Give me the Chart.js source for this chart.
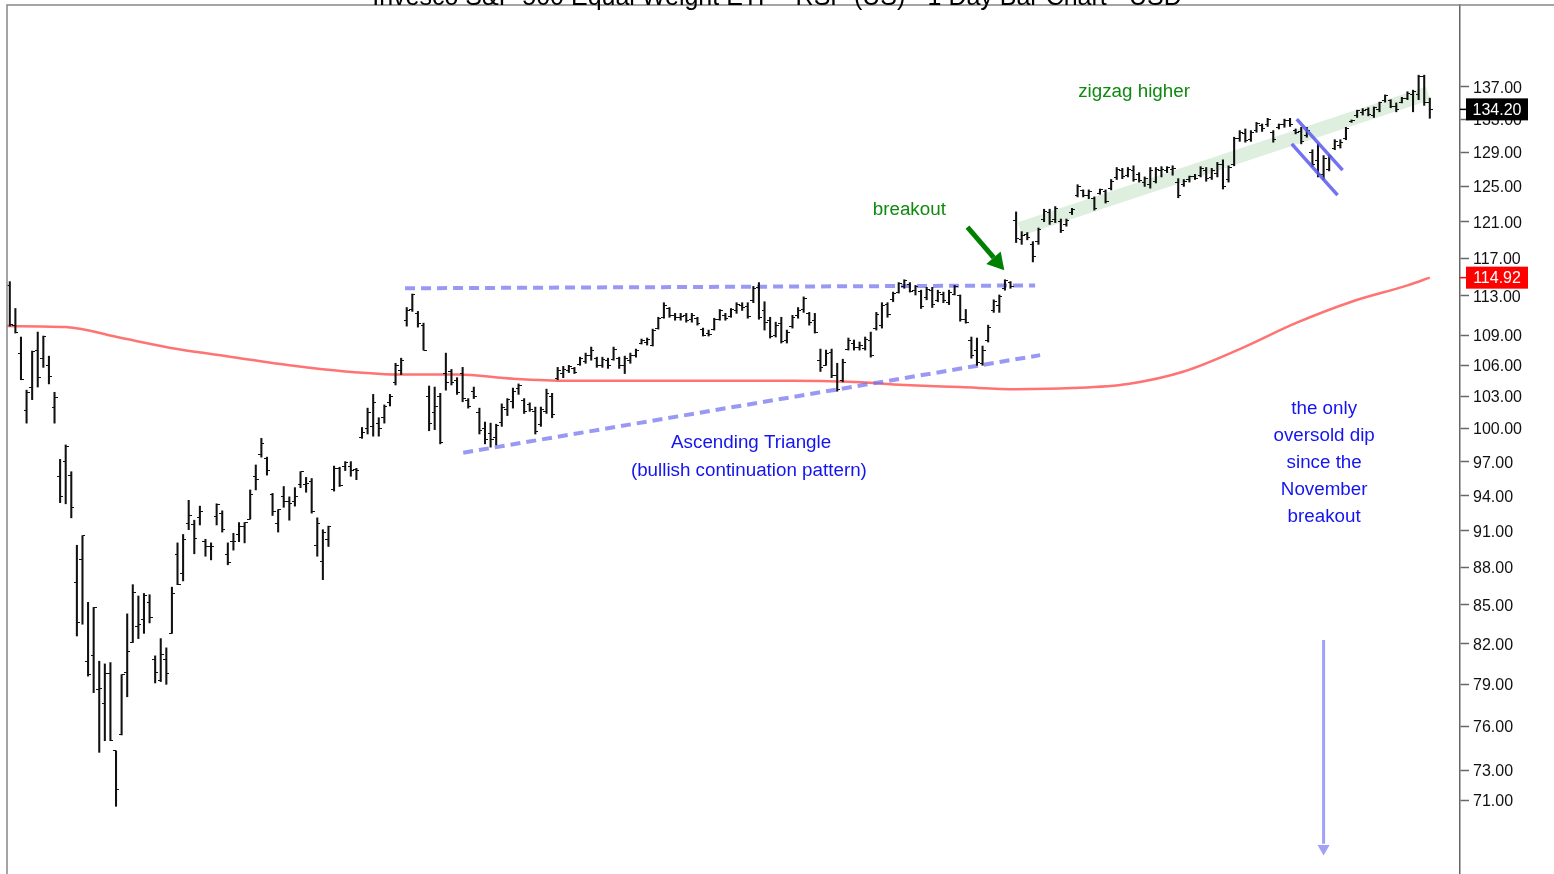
<!DOCTYPE html>
<html>
<head>
<meta charset="utf-8">
<script src="https://cdn.jsdelivr.net/npm/chart.js@4.4.1/dist/chart.umd.min.js"></script>
<style>
  html, body { margin: 0; padding: 0; background: #fff; overflow: hidden; }
  #wrap { position: relative; width: 1554px; height: 874px; }
</style>
</head>
<body>
<div id="wrap"><canvas id="chart" width="1554" height="874"></canvas></div>
<script>
const title = "Invesco S&P 500 Equal Weight ETF - RSP (US) - 1 Day Bar Chart - USD";

// daily bars (oldest first)
const opens = [
  114.1,110.0,107.2,101.7,103.9,107.5,106.7,106.0,102.0,95.7,
  97.0,95.8,86.8,88.6,80.7,81.1,78.6,77.6,79.8,74.3,
  75.4,79.9,82.1,83.3,83.9,85.2,80.8,79.3,80.8,82.8,
  89.0,87.5,91.6,91.5,92.1,90.1,89.7,92.2,92.5,89.0,
  90.1,90.7,91.4,92.0,95.7,97.6,97.3,94.1,91.6,93.9,
  93.5,93.5,95.0,95.0,95.2,89.8,88.5,90.3,94.5,96.4,
  96.6,96.6,96.3,99.2,100.0,100.2,100.5,101.0,102.4,104.3,
  105.5,110.5,111.6,111.2,110.0,103.0,101.5,103.0,105.2,105.4,
  104.5,105.2,102.6,103.5,101.5,100.0,99.5,99.2,100.6,101.8,
  102.5,103.8,102.6,102.2,101.6,100.4,101.6,103.0,104.7,105.2,
  105.5,105.7,106.1,106.4,107.0,106.7,106.0,106.5,106.6,106.7,
  106.0,106.5,107.0,108.2,108.3,108.0,109.7,110.8,111.7,111.0,
  110.8,111.0,110.6,110.7,109.6,109.2,109.6,110.6,111.0,110.9,
  111.5,112.0,111.9,112.5,113.9,111.5,110.5,109.0,110.2,108.5,
  109.9,111.0,111.6,111.2,110.5,106.5,106.0,107.3,105.0,104.5,
  107.6,108.2,107.8,107.7,108.5,109.7,110.0,112.1,112.6,113.4,
  114.0,114.2,113.6,113.5,112.8,113.6,112.5,113.2,112.3,113.2,
  113.0,110.6,108.5,107.5,106.2,108.5,111.5,112.0,113.8,114.4,
  121.1,119.0,119.6,118.5,118.8,121.2,122.0,121.2,121.0,120.7,
  122.0,124.0,124.5,124.0,123.6,124.2,124.4,124.8,126.0,126.8,
  126.3,126.8,126.4,125.5,125.2,125.6,126.8,126.8,127.0,125.5,
  125.2,125.8,126.2,126.3,126.9,126.0,126.5,127.5,125.8,127.6,
  130.6,131.3,130.5,131.6,132.2,132.3,131.4,132.0,132.3,132.8,
  131.6,131.5,131.0,129.0,128.0,126.4,127.0,129.5,129.8,130.7,
  132.7,133.4,133.8,134.2,133.5,134.2,135.3,135.3,134.5,135.1,
  135.6,136.0,136.0,138.3,135.0
];
const highs = [
  114.5,111.7,108.8,103.6,107.4,109.3,108.9,106.9,103.4,97.2,
  98.5,96.1,89.8,90.6,85.2,84.8,80.7,80.5,80.6,74.3,
  79.7,84.3,86.6,85.7,85.9,85.8,81.1,82.4,81.7,86.4,
  90.0,90.7,93.6,91.9,93.1,90.3,90.0,93.3,92.7,90.0,
  90.8,91.7,91.7,94.5,96.7,99.1,97.4,94.2,92.8,94.8,
  93.9,94.7,96.1,95.6,95.5,92.1,91.1,91.4,96.6,96.5,
  97.0,97.0,96.4,100.1,101.9,103.2,101.0,102.2,103.2,106.2,
  106.7,111.8,113.2,111.4,110.2,104.0,103.9,103.3,107.2,105.6,
  104.8,105.8,102.8,103.9,101.9,100.6,100.5,100.4,102.3,102.8,
  103.8,104.2,102.8,102.4,102.0,102.0,103.7,103.3,105.8,105.9,
  106.0,105.8,106.8,107.2,107.8,106.8,106.8,106.7,107.8,106.8,
  106.9,107.2,107.6,108.6,108.7,109.6,110.8,112.3,111.8,111.2,
  111.2,111.2,111.2,110.8,109.7,109.5,110.7,111.6,111.2,111.7,
  112.3,112.3,112.3,114.0,114.4,112.4,110.8,110.3,110.8,109.5,
  111.0,111.8,112.9,111.3,111.2,107.6,107.5,107.6,106.2,106.6,
  108.7,108.5,108.3,108.8,109.3,111.3,112.3,112.3,113.4,114.4,
  114.7,114.4,114.1,113.6,113.9,113.9,113.6,113.4,113.6,114.1,
  113.1,111.6,108.8,108.7,107.9,110.0,112.6,113.1,114.7,114.5,
  122.1,119.9,119.8,118.8,120.3,122.4,122.4,122.7,121.3,121.3,
  122.5,125.2,124.6,124.6,123.8,124.7,124.6,125.8,127.2,127.1,
  127.2,127.4,126.6,126.1,127.2,127.2,127.3,127.3,127.4,125.9,
  125.8,126.2,126.4,127.3,127.2,127.1,127.8,128.1,127.4,130.8,
  131.6,131.8,131.6,132.6,132.4,133.1,131.6,132.4,133.0,133.1,
  131.8,132.0,132.0,129.3,130.0,128.6,128.7,130.5,130.5,132.0,
  132.9,134.1,134.3,134.4,134.5,135.1,136.0,135.4,135.0,135.7,
  136.4,136.6,138.5,138.5,135.6
];
const lows = [
  109.9,109.2,104.6,100.5,102.7,103.9,105.8,104.2,100.5,93.4,
  93.3,92.1,82.6,83.5,79.6,78.4,74.2,75.0,75.0,70.6,
  75.4,78.1,82.1,82.4,82.8,83.6,79.1,79.2,79.0,82.8,
  86.6,86.9,91.1,89.1,91.5,88.9,88.6,91.5,90.9,88.2,
  89.4,90.1,90.0,92.0,94.5,97.4,95.8,92.3,90.9,93.0,
  91.9,93.1,94.7,94.3,92.5,88.9,87.0,89.7,94.4,94.8,
  96.2,95.7,95.4,99.1,99.5,99.3,99.3,100.5,102.1,104.1,
  105.1,109.9,111.4,109.8,107.5,99.8,99.9,98.6,103.6,104.1,
  103.2,102.5,101.9,102.8,99.5,98.6,98.3,98.5,100.2,101.2,
  101.9,103.2,101.4,101.6,99.5,100.2,101.4,101.0,104.6,104.8,
  105.3,105.2,106.0,106.2,106.5,105.8,105.8,105.7,106.5,105.7,
  105.2,106.2,106.8,108.1,108.0,107.9,109.6,110.7,110.8,110.5,
  110.5,110.3,110.3,110.0,108.9,108.9,109.5,110.5,110.5,110.8,
  111.2,111.5,110.7,112.3,110.6,109.5,108.7,108.8,108.2,108.2,
  109.7,110.7,111.3,110.0,109.2,105.4,106.0,104.8,103.5,104.4,
  107.5,107.5,107.5,107.5,106.8,109.5,109.7,110.8,112.4,113.3,
  113.8,113.4,113.1,111.7,112.6,111.8,112.4,112.3,112.1,113.1,
  110.4,110.2,106.7,106.0,106.0,108.3,111.3,111.3,113.6,113.8,
  118.7,118.5,119.0,116.6,118.5,121.0,120.7,120.9,119.8,120.5,
  121.8,123.8,123.8,123.6,122.3,124.1,123.1,124.6,125.8,125.9,
  126.1,125.6,125.5,125.0,124.8,125.4,126.1,126.6,126.3,123.7,
  125.0,125.5,125.8,126.1,125.6,125.8,126.1,124.7,125.5,127.4,
  130.3,130.2,130.3,131.4,131.5,132.1,130.2,131.8,132.0,132.1,
  131.2,130.0,130.8,127.3,126.1,125.8,126.8,129.3,129.5,130.5,
  132.6,133.2,133.5,133.4,133.2,133.9,135.1,134.4,133.9,135.0,
  135.4,133.9,135.4,134.7,133.1
];
const closes = [
  110.1,109.3,104.6,103.4,107.4,104.8,108.9,104.9,102.9,93.9,
  98.4,93.0,83.6,90.6,79.7,84.8,78.7,79.8,75.0,71.7,
  79.7,81.4,86.0,83.5,85.7,84.0,79.9,81.2,79.8,85.9,
  86.6,90.3,92.3,90.4,92.6,89.7,89.7,93.2,91.1,88.4,
  90.1,91.4,91.7,94.1,95.4,98.6,96.2,92.6,92.8,93.5,
  93.3,93.9,96.1,95.1,92.6,91.6,90.9,91.4,96.4,94.9,
  96.9,96.2,96.2,99.6,101.5,102.4,100.0,102.1,103.0,106.0,
  106.5,111.5,113.1,110.2,107.5,100.5,102.1,98.7,104.3,104.3,
  103.4,102.8,102.1,103.0,99.8,99.0,99.0,100.3,102.0,102.7,
  103.5,104.0,101.6,101.8,99.7,101.8,103.3,101.3,105.5,105.6,
  105.9,105.3,106.7,107.0,107.5,106.0,106.6,106.0,107.6,106.0,
  106.7,107.0,107.5,108.5,108.6,109.5,110.7,112.0,111.0,110.8,
  110.9,110.5,111.0,110.2,109.0,109.1,110.6,111.5,110.7,111.6,
  112.1,111.8,110.9,113.8,110.8,110.3,108.9,110.0,108.4,109.3,
  110.8,111.5,112.7,110.3,109.3,105.8,107.2,105.0,103.7,106.3,
  108.5,107.8,108.0,108.6,107.0,111.1,112.0,111.1,113.3,114.3,
  114.6,113.5,114.0,111.9,113.7,112.1,113.4,112.5,113.4,114.0,
  110.6,110.3,107.0,106.3,107.5,109.8,112.4,112.9,114.6,114.0,
  119.1,119.5,119.2,117.2,120.1,122.2,121.0,122.5,120.0,121.1,
  122.4,125.0,124.0,124.4,122.5,124.6,123.3,125.6,127.0,126.2,
  127.0,125.8,125.7,125.9,126.9,127.0,127.0,127.2,127.1,124.0,
  125.6,126.1,125.9,127.1,125.9,126.9,127.6,125.0,127.2,130.6,
  131.4,130.4,131.4,132.5,131.8,133.0,130.5,132.3,132.8,132.4,
  131.4,130.3,131.6,127.6,126.4,128.3,128.5,130.3,130.2,131.9,
  132.8,134.0,134.1,133.6,134.4,135.0,135.9,134.6,134.2,135.6,
  136.2,136.4,138.3,135.0,134.2
];

// 200 day moving average, read every 10 bars
const maBars   = [-0.5, 10, 20, 30, 40, 50, 60, 70, 80, 90, 100, 110, 120, 130, 140, 150, 160, 170, 180, 190, 200, 210, 220, 230, 240, 250, 254];
const maValues = [109.9, 109.8, 108.7, 107.6, 106.8, 106.0, 105.4, 105.1, 105.1, 104.7, 104.5, 104.5, 104.5, 104.5, 104.5, 104.4, 104.1, 103.9, 103.7, 103.8, 104.2, 105.4, 107.6, 110.2, 112.4, 114.1, 114.92];

const yTicks = [137, 133, 129, 125, 121, 117, 113, 109, 106, 103, 100, 97, 94, 91, 88, 85, 82, 79, 76, 73, 71];

// drawn lines: [bar, price] ends
const triTop = [[70.7, 113.8], [183.4, 114.1]];
const triBottom = [[81.1, 97.8], [184.3, 107.0]];
const zigzagBand = [[180.7, 120.2], [253.7, 136.2]];
const dipUpper = [[230.2, 133.0], [238.4, 126.9]];
const dipLower = [[229.3, 130.0], [237.5, 124.0]];
const downArrow = [[235, 82.3], [235, 68.2]];
const downArrowHead = [235, 67.9];
const greenArrow = [[171.3, 120.4], [176.0, 117.05]];
const greenArrowHead = [176.6, 116.6];

const GREEN = "#0f8a0f";
const BLUE = "#1414f0";
const notes = [
  { text: "zigzag higher", x: 201.1, y: 136.5, color: GREEN },
  { text: "breakout", x: 160.9, y: 122.5, color: GREEN },
  { text: "Ascending Triangle", x: 132.6, y: 98.8, color: BLUE },
  { text: "(bullish continuation pattern)", x: 132.2, y: 96.3, color: BLUE },
  { text: "the only", x: 235.1, y: 101.9, color: BLUE },
  { text: "oversold dip", x: 235.1, y: 99.4, color: BLUE },
  { text: "since the", x: 235.1, y: 97.0, color: BLUE },
  { text: "November", x: 235.1, y: 94.6, color: BLUE },
  { text: "breakout", x: 235.1, y: 92.3, color: BLUE },
];

const FONT = '"Liberation Sans", Arial, sans-serif';
const idx = closes.map((_, i) => i);
const pts = (arr) => arr.map(p => ({ x: p[0], y: p[1] }));

function tickMark(side) {
  const c = document.createElement("canvas");
  c.width = 6; c.height = 1;
  const g = c.getContext("2d");
  g.fillStyle = "#111";
  g.fillRect(side === "left" ? 0 : 3, 0, 3, 1);
  return c;
}

function seg(data, color, width, order, dash) {
  return {
    type: "line", data: pts(data), borderColor: color, borderWidth: width,
    borderDash: dash || [], pointRadius: 0, borderCapStyle: "butt", order: order,
  };
}

const overlay = {
  id: "overlay",
  afterDatasetsDraw(chart) {
    const { ctx, scales: { x, y } } = chart;
    ctx.save();
    ctx.font = "18.8px " + FONT;
    ctx.textAlign = "center";
    ctx.textBaseline = "middle";
    notes.forEach(n => {
      ctx.fillStyle = n.color;
      ctx.fillText(n.text, x.getPixelForValue(n.x), y.getPixelForValue(n.y) + 1);
    });
    ctx.restore();
  },
  afterDraw(chart) {
    const { ctx, chartArea: a, scales: { y } } = chart;
    ctx.save();
    // frame
    ctx.strokeStyle = "#888";
    ctx.lineWidth = 1.5;
    ctx.beginPath();
    ctx.moveTo(a.left, a.bottom); ctx.lineTo(a.left, a.top); ctx.lineTo(chart.width, a.top);
    ctx.stroke();
    // cut-off title
    ctx.fillStyle = "#000";
    ctx.font = "25px " + FONT;
    ctx.textAlign = "center";
    ctx.textBaseline = "alphabetic";
    ctx.fillText(title, chart.width / 2, 4.5);
    // last price tags
    const tag = (val, bg) => {
      const py = y.getPixelForValue(val);
      ctx.strokeStyle = bg; ctx.lineWidth = 1.5;
      ctx.beginPath(); ctx.moveTo(a.right, py); ctx.lineTo(a.right + 7, py); ctx.stroke();
      ctx.fillStyle = bg;
      ctx.fillRect(a.right + 6, py - 11, 62, 22);
      ctx.fillStyle = "#fff";
      ctx.font = "16px " + FONT;
      ctx.textBaseline = "middle";
      ctx.fillText(val.toFixed(2), a.right + 37, py + 1);
    };
    tag(closes[closes.length - 1], "#000");
    tag(maValues[maValues.length - 1], "#ff0000");
    ctx.restore();
  }
};

new Chart(document.getElementById("chart"), {
  type: "bar",
  data: {
    datasets: [
      {
        type: "bar", data: idx.map(i => ({ x: i, y: [lows[i], highs[i]] })),
        backgroundColor: "#111", barThickness: 1.4, order: 1,
      },
      {
        type: "line", data: idx.map(i => ({ x: i, y: opens[i] })), showLine: false,
        pointStyle: tickMark("left"), pointRadius: 2, order: 0,
      },
      {
        type: "line", data: idx.map(i => ({ x: i, y: closes[i] })), showLine: false,
        pointStyle: tickMark("right"), pointRadius: 2, order: 0,
      },
      {
        type: "line", data: maBars.map((b, k) => ({ x: b, y: maValues[k] })),
        borderColor: "rgba(255,90,90,0.85)", borderWidth: 2.5, pointRadius: 0,
        cubicInterpolationMode: "monotone", order: 8,
      },
      seg(zigzagBand, "rgba(40,150,40,0.15)", 14, 9),
      seg(triTop, "rgba(110,110,240,0.7)", 4, 7, [10, 6]),
      seg(triBottom, "rgba(110,110,240,0.7)", 4, 7, [10, 6]),
      seg(dipUpper, "rgba(90,90,240,0.85)", 3.5, -1),
      seg(dipLower, "rgba(90,90,240,0.85)", 3.5, -1),
      seg(downArrow, "rgba(130,130,245,0.75)", 3, -1),
      seg(greenArrow, "#008000", 5, -1),
      {
        type: "line", data: pts([downArrowHead]), showLine: false, pointStyle: "triangle",
        pointRotation: 180, pointRadius: 7, pointBackgroundColor: "rgba(130,130,245,0.75)",
        pointBorderWidth: 0, order: -1,
      },
      {
        type: "line", data: pts([greenArrowHead]), showLine: false, pointStyle: "triangle",
        pointRotation: 139, pointRadius: 11, pointBackgroundColor: "#008000",
        pointBorderWidth: 0, order: -1,
      },
    ],
  },
  options: {
    responsive: false,
    animation: false,
    events: [],
    layout: { autoPadding: false, padding: { top: 5, left: 7, right: 0, bottom: 0 } },
    plugins: { legend: { display: false }, title: { display: false }, tooltip: { enabled: false } },
    scales: {
      x: { type: "linear", min: -0.5, max: 259.4, offset: false, display: false },
      y: {
        type: "logarithmic", position: "right", min: 66.33, max: 147.75,
        afterFit(s) { s.width = 94; s.paddingTop = 0; s.paddingBottom = 0; },
        afterBuildTicks(s) { s.ticks = yTicks.map(v => ({ value: v })); },
        ticks: {
          autoSkip: false, padding: 4, color: "#111", labelOffset: 1.5,
          font: { size: 16, family: FONT },
          callback: v => Number(v).toFixed(2),
        },
        grid: { drawOnChartArea: false, tickLength: 9, color: "#666", tickWidth: 1.5 },
        border: { color: "#666", width: 1.5 },
      },
    },
  },
  plugins: [overlay],
});
</script>
</body>
</html>
